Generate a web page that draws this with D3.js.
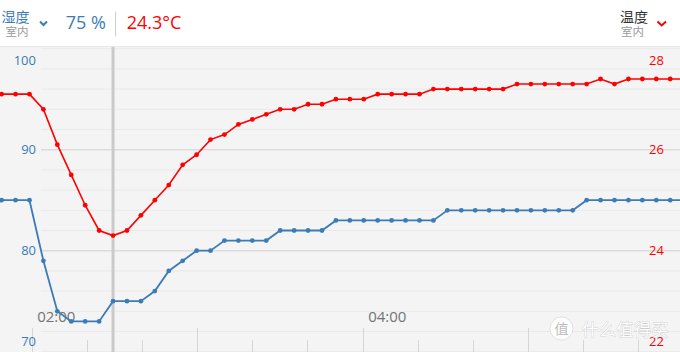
<!DOCTYPE html>
<html><head><meta charset="utf-8">
<script src="https://cdn.jsdelivr.net/npm/d3@7/dist/d3.min.js"></script>
<style>
html,body{margin:0;padding:0;background:#fff;}
svg{display:block;}
text{font-family:"Open Sans",sans-serif;}
.cjk{font-family:"Noto Sans CJK SC",sans-serif;}
</style></head>
<body><svg id="c" width="680" height="352"></svg>
<script>
// ---- data ----
const times = ["01:49:06","01:54:09","01:59:12","02:04:15","02:09:18","02:14:21","02:19:24","02:24:27","02:29:30","02:34:33",
"02:39:36","02:44:39","02:49:42","02:54:45","02:59:48","03:04:51","03:09:54","03:14:57","03:20:00","03:25:03",
"03:30:06","03:35:09","03:40:12","03:45:15","03:50:18","03:55:21","04:00:24","04:05:27","04:10:30","04:15:33",
"04:20:36","04:25:39","04:30:42","04:35:45","04:40:48","04:45:51","04:50:54","04:55:57","05:01:00","05:06:03",
"05:11:06","05:16:09","05:21:12","05:26:15","05:31:18","05:36:21","05:41:24","05:46:27","05:51:30","05:56:33"];
const humidity = [85,85,85,79,74,73,73,73,75,75,
75,76,78,79,80,80,81,81,81,81,
82,82,82,82,83,83,83,83,83,83,
83,83,84,84,84,84,84,84,84,84,
84,84,85,85,85,85,85,85,85,85];
const temperature = [27.1,27.1,27.1,26.8,26.1,25.5,24.9,24.4,24.3,24.4,
24.7,25.0,25.3,25.7,25.9,26.2,26.3,26.5,26.6,26.7,
26.8,26.8,26.9,26.9,27.0,27.0,27.0,27.1,27.1,27.1,
27.1,27.2,27.2,27.2,27.2,27.2,27.2,27.3,27.3,27.3,
27.3,27.3,27.3,27.4,27.3,27.4,27.4,27.4,27.4,27.4];
const xDomain = ["01:48:31","05:55:03"];
const humDomain = [70,100];
const tempDomain = [22,28];
const leftTicks = [70,80,90,100];
const rightTicks = [22,24,26,28];
const majorGrid = [80,90];
const xLabels = ["02:00","04:00"];
const cursorIndex = 8;
const headerHum = "75 %";
const headerTemp = "24.3°C";

// ---- setup ----
const W = 680, H = 352;
const blue = "#3b7bb6", red = "#ff0000";
const parse = d3.timeParse("%H:%M:%S");
const parseHM = d3.timeParse("%H:%M");
const svg = d3.select("#c");

const x = d3.scaleTime().domain(xDomain.map(parse)).range([0, W]);
const yH = d3.scaleLinear().domain(humDomain).range([351.7, 48.7]);
const yT = d3.scaleLinear().domain(tempDomain).range([351.7, 48.7]);

// backgrounds
svg.append("rect").attr("x",0).attr("y",0).attr("width",W).attr("height",H).attr("fill","#fff");
svg.append("rect").attr("x",0).attr("y",47).attr("width",W).attr("height",H-47).attr("fill","#f4f4f4");
svg.append("line").attr("x1",0).attr("x2",W).attr("y1",46.5).attr("y2",46.5).attr("stroke","#e8e8e8");

// grid
const gridVals = yH.ticks(15);
svg.append("g").selectAll("line").data(gridVals).join("line")
  .attr("x1",41).attr("x2",W)
  .attr("y1",d=>yH(d)).attr("y2",d=>yH(d))
  .attr("stroke",d=>majorGrid.includes(d)?"#dcdcdc":"#e9e9e9")
  .attr("stroke-width",d=>majorGrid.includes(d)?1.6:1);

// x ticks
const xt = x.ticks(d3.timeMinute.every(20));
svg.append("g").selectAll("line").data(xt).join("line")
  .attr("x1",d=>Math.round(x(d))+0.5).attr("x2",d=>Math.round(x(d))+0.5)
  .attr("y1",d=>d.getMinutes()===0?328:340).attr("y2",H)
  .attr("stroke","#d6d6d6");

svg.append("g").selectAll("text").data(xLabels).join("text")
  .attr("x",d=>x(parseHM(d))+5.5).attr("y",322)
  .attr("font-size",15).attr("fill","#737373").text(d=>d);

// cursor
const cx = x(parse(times[cursorIndex]));
svg.append("line").attr("x1",cx).attr("x2",cx).attr("y1",47).attr("y2",H)
  .attr("stroke","#cacaca").attr("stroke-width",3);

// lines
const pts = times.map((t,i)=>({t:parse(t),h:humidity[i],T:temperature[i]}));
const lineH = d3.line().x(d=>x(d.t)).y(d=>yH(d.h));
const lineT = d3.line().x(d=>x(d.t)).y(d=>yT(d.T));
svg.append("path").datum(pts).attr("d",lineH).attr("fill","none").attr("stroke",blue).attr("stroke-width",1.8);
svg.append("g").selectAll("circle").data(pts).join("circle")
  .attr("cx",d=>x(d.t)).attr("cy",d=>yH(d.h)).attr("r",2.4).attr("fill",blue);
svg.append("path").datum(pts).attr("d",lineT).attr("fill","none").attr("stroke",red).attr("stroke-width",1.6);
svg.append("g").selectAll("circle").data(pts).join("circle")
  .attr("cx",d=>x(d.t)).attr("cy",d=>yT(d.T)).attr("r",2.4).attr("fill",red);

// y labels (clamped inside plot)
const clampY = v => Math.min(Math.max(v, 60), 341);
svg.append("g").selectAll("text").data(leftTicks).join("text")
  .attr("x",36).attr("y",d=>clampY(yH(d))).attr("dy","0.36em")
  .attr("text-anchor","end").attr("font-size",13).attr("fill",blue).text(d=>d);
svg.append("g").selectAll("text").data(rightTicks).join("text")
  .attr("x",649).attr("y",d=>clampY(yT(d))).attr("dy","0.36em")
  .attr("font-size",13).attr("fill",red).text(d=>d);

// header
const hdr = svg.append("g");
hdr.append("text").attr("class","cjk").attr("x",15.5).attr("y",21.5).attr("text-anchor","middle")
  .attr("font-size",14).attr("fill",blue).text("湿度");
hdr.append("text").attr("class","cjk").attr("x",17).attr("y",36).attr("text-anchor","middle")
  .attr("font-size",11.5).attr("fill","#9a9a9a").text("室内");
hdr.append("path").attr("d","M40,21.5 L43.5,25 L47,21.5").attr("fill","none").attr("stroke",blue).attr("stroke-width",2);
hdr.append("text").attr("x",65.7).attr("y",29.3).attr("font-size",18).attr("fill",blue).text(headerHum);
hdr.append("line").attr("x1",115.5).attr("x2",115.5).attr("y1",11.5).attr("y2",36.5).attr("stroke","#d0d0d0");
hdr.append("text").attr("x",126.7).attr("y",29.3).attr("font-size",18).attr("fill",red).text(headerTemp);
hdr.append("text").attr("class","cjk").attr("x",634).attr("y",21.5).attr("text-anchor","middle")
  .attr("font-size",14).attr("fill","#333").text("温度");
hdr.append("text").attr("class","cjk").attr("x",632.5).attr("y",36).attr("text-anchor","middle")
  .attr("font-size",11.5).attr("fill","#9a9a9a").text("室内");
hdr.append("path").attr("d","M657.5,21.5 L661.7,25.5 L666,21.5").attr("fill","none").attr("stroke",red).attr("stroke-width",2);

// watermark
const wm = svg.append("g");
wm.append("circle").attr("cx",561.5).attr("cy",328.5).attr("r",11.5).attr("fill","rgba(255,255,255,0.9)").attr("stroke","rgba(0,0,0,0.1)");
wm.append("text").attr("class","cjk").attr("x",561.5).attr("y",334).attr("text-anchor","middle")
  .attr("font-size",14).attr("fill","#bdbdbd").text("值");
wm.append("text").attr("class","cjk").attr("x",581.5).attr("y",335.5).attr("font-size",17)
  .attr("fill","rgba(255,255,255,0.95)").attr("stroke","rgba(0,0,0,0.16)").attr("stroke-width",1)
  .attr("paint-order","stroke").attr("letter-spacing",0.5).text("什么值得买");
</script></body></html>
